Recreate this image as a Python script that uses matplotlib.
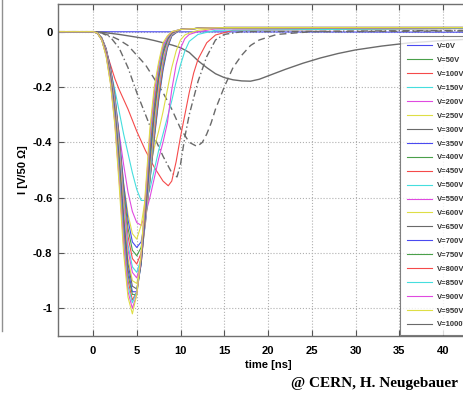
import matplotlib
matplotlib.use('Agg')
import matplotlib.pyplot as plt
from matplotlib.lines import Line2D

plt.rcParams['font.family'] = ['Liberation Sans', 'DejaVu Sans']
plt.rcParams['font.weight'] = 'bold'

# colours (matlab-ish, washed out like the scan)
BLUE, GREEN, RED, CYAN = '#4a4af0', '#4aa04a', '#f54a4a', '#45dede'
MAGENTA, YELLOW, GRAY = '#e04ae0', '#dede45', '#6a6a6a'
cycle = [BLUE, GREEN, RED, CYAN, MAGENTA, YELLOW, GRAY]

voltages = list(range(0, 1001, 50))

# ---- slow curves (low bias) ----
t_v0 = [-4, 45]
v0 = [0.0, -0.002]

t_v50 = [-4, 0, 1, 2, 3, 4, 5, 6, 7, 8, 9, 10, 11, 12, 13, 14, 15, 16, 17, 18,
         19, 20, 21, 22, 24, 26, 28, 30, 33, 36, 40, 45]
v50 = [0, 0, -0.002, -0.006, -0.01, -0.015, -0.02, -0.025, -0.032, -0.04, -0.048,
       -0.058, -0.075, -0.105, -0.13, -0.152, -0.166, -0.174, -0.178, -0.179,
       -0.172, -0.16, -0.148, -0.136, -0.114, -0.095, -0.079, -0.066, -0.052,
       -0.041, -0.032, -0.024]

t_v100 = [-4, 0, 1, 2, 3, 4, 5, 6, 7, 8, 9, 10, 11, 11.9, 12.5, 13, 13.5, 14, 15,
          16, 17, 18, 19, 21, 25, 45]
v100 = [0, 0, -0.005, -0.015, -0.03, -0.05, -0.085, -0.12, -0.17, -0.22, -0.28,
        -0.35, -0.40, -0.415, -0.40, -0.37, -0.33, -0.28, -0.20, -0.13, -0.085,
        -0.05, -0.03, -0.01, 0.0, 0.003]

t_v150 = [-4, 0, 1, 2, 3, 4, 5, 6, 7, 8, 9, 9.6, 10, 10.5, 11, 11.5, 12, 13, 14,
          15, 17, 45]
v150 = [0, 0, -0.005, -0.02, -0.06, -0.13, -0.22, -0.30, -0.38, -0.45, -0.51,
        -0.525, -0.48, -0.38, -0.30, -0.24, -0.18, -0.09, -0.03, -0.01, 0.0, 0.005]

t_v200 = [-4, 0, 0.5, 1, 1.5, 2, 2.5, 3, 3.5, 4, 5, 6, 7, 8, 8.6, 9, 9.5, 10,
          10.5, 11, 11.5, 12, 13, 14, 16, 45]
v200 = [0, 0, -0.005, -0.03, -0.07, -0.12, -0.17, -0.21, -0.245, -0.28, -0.36,
        -0.43, -0.49, -0.54, -0.557, -0.54, -0.47, -0.38, -0.30, -0.22, -0.15,
        -0.10, -0.04, -0.012, 0.005, 0.012]

# ---- intermediate curves ----
t_mid = [-4, 0, 0.5, 1, 1.5, 2, 2.5, 3, 3.5, 4, 4.5, 5, 5.5, 6, 6.5, 7, 7.5, 8,
         8.5, 9, 9.5, 10, 10.5, 11, 12, 14, 45]
v250 = [0, 0, -0.005, -0.03, -0.075, -0.14, -0.21, -0.29, -0.37, -0.44, -0.51,
        -0.57, -0.61, -0.61, -0.57, -0.50, -0.43, -0.37, -0.31, -0.25, -0.18,
        -0.12, -0.07, -0.035, -0.01, 0.005, 0.012]
v300 = [0, 0, -0.005, -0.03, -0.08, -0.16, -0.26, -0.37, -0.48, -0.58, -0.65,
        -0.69, -0.70, -0.66, -0.60, -0.53, -0.46, -0.40, -0.33, -0.21, -0.12,
        -0.06, -0.025, -0.01, 0.0, 0.01, 0.015]
v350 = [0, 0, -0.005, -0.03, -0.085, -0.17, -0.28, -0.41, -0.55, -0.66, -0.73,
        -0.75, -0.70, -0.60, -0.50, -0.42, -0.36, -0.29, -0.21, -0.13, -0.07,
        -0.03, -0.012, -0.005, 0.005, 0.012, 0.015]

# ---- fast bundle (high bias) ----
t_fast = [-4, 0, 0.5, 1, 1.5, 2, 2.5, 3, 3.5, 4, 4.5, 5, 5.5, 6, 6.5, 7, 7.5, 8,
          8.5, 9, 10, 12, 15, 45]
v400 = [0, 0, -0.005, -0.022, -0.06, -0.13, -0.23, -0.38, -0.55, -0.68, -0.76, -0.78, -0.76, -0.67, -0.54, -0.39, -0.25, -0.14, -0.06, -0.016, 0.008, 0.012, 0.015, 0.015]
v450 = [0, 0, -0.005, -0.022, -0.063, -0.135, -0.235, -0.39, -0.57, -0.71, -0.79, -0.81, -0.78, -0.68, -0.54, -0.38, -0.24, -0.13, -0.055, -0.014, 0.008, 0.012, 0.015, 0.015]
v500 = [0, 0, -0.005, -0.023, -0.065, -0.14, -0.24, -0.40, -0.59, -0.74, -0.82, -0.84, -0.80, -0.69, -0.53, -0.37, -0.23, -0.12, -0.05, -0.012, 0.008, 0.012, 0.015, 0.015]
v550 = [0, 0, -0.005, -0.024, -0.068, -0.145, -0.25, -0.41, -0.61, -0.77, -0.85, -0.87, -0.82, -0.69, -0.52, -0.35, -0.21, -0.11, -0.045, -0.01, 0.008, 0.012, 0.015, 0.015]
v600 = [0, 0, -0.005, -0.025, -0.07, -0.15, -0.26, -0.43, -0.63, -0.79, -0.87, -0.89, -0.83, -0.68, -0.50, -0.33, -0.20, -0.10, -0.04, -0.008, 0.008, 0.012, 0.015, 0.015]
v650 = [0, 0, -0.005, -0.025, -0.072, -0.155, -0.27, -0.44, -0.65, -0.82, -0.90, -0.91, -0.84, -0.67, -0.49, -0.32, -0.19, -0.09, -0.035, -0.006, 0.008, 0.012, 0.015, 0.015]
v700 = [0, 0, -0.005, -0.026, -0.075, -0.16, -0.28, -0.46, -0.67, -0.84, -0.92, -0.93, -0.84, -0.66, -0.47, -0.30, -0.17, -0.08, -0.03, -0.005, 0.008, 0.012, 0.015, 0.015]
v750 = [0, 0, -0.005, -0.027, -0.078, -0.165, -0.29, -0.48, -0.69, -0.86, -0.94, -0.94, -0.84, -0.65, -0.45, -0.28, -0.16, -0.075, -0.028, -0.004, 0.008, 0.012, 0.015, 0.015]
v800 = [0, 0, -0.005, -0.028, -0.08, -0.17, -0.30, -0.49, -0.71, -0.88, -0.95, -0.95, -0.83, -0.63, -0.43, -0.27, -0.15, -0.07, -0.025, -0.003, 0.008, 0.012, 0.015, 0.015]
v850 = [0, 0, -0.005, -0.028, -0.08, -0.175, -0.31, -0.51, -0.73, -0.90, -0.97, -0.94, -0.82, -0.62, -0.41, -0.25, -0.14, -0.06, -0.022, -0.002, 0.008, 0.012, 0.015, 0.015]
v900 = [0, 0, -0.005, -0.03, -0.085, -0.18, -0.32, -0.52, -0.75, -0.92, -0.98, -0.94, -0.81, -0.60, -0.39, -0.23, -0.13, -0.055, -0.02, 0.0, 0.008, 0.012, 0.015, 0.015]
v950 = [0, 0, -0.005, -0.03, -0.085, -0.185, -0.33, -0.54, -0.77, -0.94, -1.00, -0.95, -0.81, -0.59, -0.37, -0.22, -0.12, -0.05, -0.018, 0.0, 0.008, 0.012, 0.015, 0.015]
v1000 = [0, 0, -0.005, -0.03, -0.09, -0.19, -0.34, -0.56, -0.80, -0.96, -1.02, -0.95, -0.80, -0.57, -0.35, -0.20, -0.11, -0.04, -0.015, 0.0, 0.008, 0.012, 0.015, 0.015]

fig = plt.figure(figsize=(4.63, 3.94), dpi=100)
W, H = 463, 394
ax = fig.add_axes([58 / W, 1 - 336 / H, 420 / W, 332 / H])

lw = 0.8
# slow ones, as they look in the picture
ax.plot(t_v0, v0, color=BLUE, lw=lw)
ax.plot(t_v50, v50, color=GRAY, lw=1.0)
ax.plot(t_v100, v100, color=GRAY, lw=1.0, ls=(0, (5, 3)))
ax.plot(t_v150, v150, color=GRAY, lw=1.0, ls=(0, (5, 2, 1, 2)))
ax.plot(t_v200, v200, color=RED, lw=lw)
ax.plot(t_mid, v250, color=CYAN, lw=lw)
ax.plot(t_mid, v300, color=MAGENTA, lw=lw)
ax.plot(t_mid, v350, color=YELLOW, lw=lw)

fast = [v400, v450, v500, v550, v600, v650, v700, v750, v800, v850, v900, v950, v1000]
for i, v in enumerate(fast):
    ax.plot(t_fast, v, color=cycle[i % 7], lw=lw)

ax.set_xlim(-4, 44)
ax.set_ylim(-1.1, 0.1)
ax.set_xticks(range(0, 45, 5))
ax.set_yticks([0, -0.2, -0.4, -0.6, -0.8, -1])
ax.set_yticklabels(['0', '-0.2', '-0.4', '-0.6', '-0.8', '-1'])
ax.tick_params(direction='in', length=4, width=0.8, color='#555555',
               top=True, right=True, labelsize=8)
ax.tick_params(axis='x', pad=7)
ax.tick_params(axis='y', pad=4)
ax.grid(True, ls=':', lw=0.8, color='#b0b0b0')
for s in ax.spines.values():
    s.set_color('#707070')
    s.set_linewidth(1.0)

ax.set_xlabel('time [ns]', fontsize=8, fontweight='bold', labelpad=3)
ax.set_ylabel('I [V/50 Ω]', fontsize=8, fontweight='bold', labelpad=4)

handles = [Line2D([], [], color=cycle[i % 7], lw=0.8) for i in range(len(voltages))]
labels = [f'V={v}V' for v in voltages]
leg = ax.legend(handles, labels, loc='upper left', bbox_to_anchor=(0.814, 0.904),
                fontsize=5.5, handlelength=3.3, labelspacing=0.86, borderpad=0.9,
                handletextpad=0.6, frameon=True, fancybox=False, borderaxespad=0)
leg.get_frame().set_edgecolor('#606060')
leg.get_frame().set_linewidth(0.8)
for txt in leg.get_texts():
    txt.set_color('#333333')

# edge of the neighbouring panel on the left
fig.add_artist(Line2D([1.5 / W, 1.5 / W], [1 - 331 / H, 1.0], color='#909090', lw=1.0))

fig.text(458 / W, 1 - 383 / H, '@ CERN, H. Neugebauer', ha='right', va='center',
         fontsize=11, fontweight='bold', family='Liberation Serif')

fig.savefig('out.png', dpi=100)
